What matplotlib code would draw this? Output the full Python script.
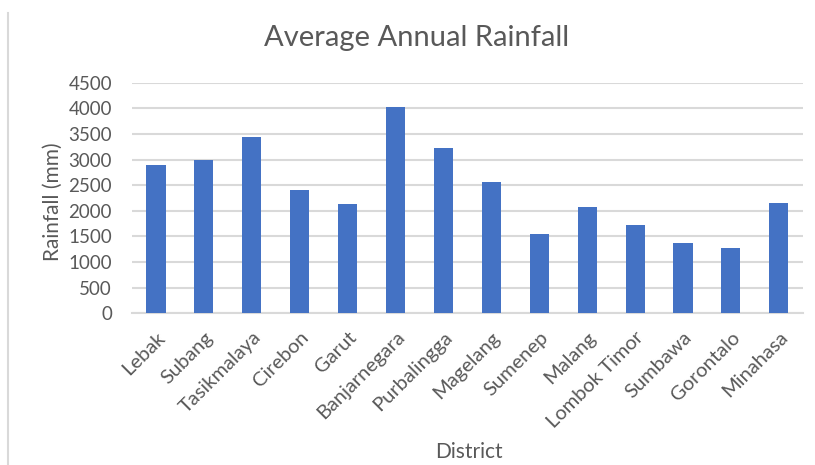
import matplotlib
matplotlib.use("Agg")
from matplotlib import pyplot as plt
from matplotlib.lines import Line2D

plt.rcParams['font.family'] = ['Lato', 'DejaVu Sans']

districts = ['Lebak', 'Subang', 'Tasikmalaya', 'Cirebon', 'Garut', 'Banjarnegara',
             'Purbalingga', 'Magelang', 'Sumenep', 'Malang', 'Lombok Timor',
             'Sumbawa', 'Gorontalo', 'Minahasa']
rainfall_mm = [2900, 3000, 3440, 2400, 2130, 4030,
               3230, 2570, 1550, 2080, 1725,
               1370, 1280, 2150]
y_ticks = [0, 500, 1000, 1500, 2000, 2500, 3000, 3500, 4000, 4500]

text_grey = '#595959'
grid_grey = '#D9D9D9'

fig = plt.figure(figsize=(8.15, 4.65), dpi=100)
ax = fig.add_axes([0.162, 0.3262, 0.823, 0.496])

x = range(len(districts))
ax.bar(x, rainfall_mm, width=0.40, color='#4472C4', zorder=3)

ax.set_xlim(-0.5, len(districts) - 0.5)
ax.set_ylim(0, 4500)
ax.set_yticks(y_ticks)
ax.set_yticklabels([str(v) for v in y_ticks])
ax.yaxis.grid(True, color=grid_grey, linewidth=1.5, zorder=0)
ax.tick_params(axis='y', length=0, pad=14.5, labelsize=13.5, labelcolor=text_grey)

ax.set_xticks(list(x))
ax.set_xticklabels(districts, rotation=45, ha='right', rotation_mode='anchor')
ax.tick_params(axis='x', length=0, pad=11, labelsize=14.5, labelcolor=text_grey)

for side in ('top', 'right', 'left'):
    ax.spines[side].set_visible(False)
ax.spines['bottom'].set_color(grid_grey)
ax.spines['bottom'].set_linewidth(1.5)

fig.text(0.511, 0.918, 'Average Annual Rainfall', ha='center', va='center',
         fontsize=21, color=text_grey)
fig.text(0.065, 0.567, 'Rainfall (mm)', ha='center', va='center', rotation=90,
         fontsize=15, color=text_grey)
fig.text(0.575, 0.029, 'District', ha='center', va='center',
         fontsize=15, color=text_grey)

# thin frame edge on the left of the chart area
fig.add_artist(Line2D([0.0095, 0.0095], [0.0, 0.972], transform=fig.transFigure,
                      color=grid_grey, linewidth=1.5))

fig.savefig('out.png', dpi=100, facecolor='white')
